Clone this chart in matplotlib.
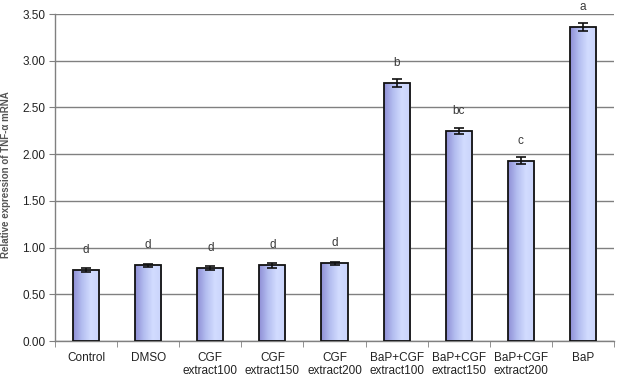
import numpy as np
import matplotlib
matplotlib.use("Agg")
import matplotlib.pyplot as plt
from matplotlib.colors import LinearSegmentedColormap

categories = ["Control", "DMSO", "CGF\nextract100", "CGF\nextract150", "CGF\nextract200",
              "BaP+CGF\nextract100", "BaP+CGF\nextract150", "BaP+CGF\nextract200", "BaP"]
values = [0.76, 0.81, 0.78, 0.81, 0.83, 2.76, 2.25, 1.93, 3.36]
errors = [0.025, 0.015, 0.025, 0.025, 0.02, 0.04, 0.03, 0.04, 0.04]
letters = ["d", "d", "d", "d", "d", "b", "bc", "c", "a"]
yticks = [0.0, 0.5, 1.0, 1.5, 2.0, 2.5, 3.0, 3.5]

plt.rcParams['font.family'] = ['Liberation Sans', 'DejaVu Sans']

fig = plt.figure(figsize=(6.23, 3.88), dpi=100)
ax = fig.add_axes([55/623, 1 - 341/388, 559/623, 327/388])

x = np.arange(len(categories))
width = 0.42
cmap = LinearSegmentedColormap.from_list("g", ["#8f8fd6", "#b4bef0", "#d2dcff", "#cad4fb"])
grad = np.linspace(0, 1, 64).reshape(1, -1)

ax.set_xlim(-0.5, len(categories) - 0.5)
ax.set_ylim(0, 3.5)

for i, (v, e) in enumerate(zip(values, errors)):
    bars = ax.bar(x[i], v, width=width, facecolor="none", edgecolor="#111111", linewidth=1.3, zorder=3)
    rect = bars[0]
    im = ax.imshow(grad, cmap=cmap, aspect="auto",
                   extent=[x[i] - width/2, x[i] + width/2, 0, v], zorder=2)
    im.set_clip_path(rect)
    ax.errorbar(x[i], v, yerr=e, fmt="none", ecolor="#111111", elinewidth=1.2,
                capsize=3.5, capthick=1.2, zorder=4)
    ax.text(x[i], v + 0.15, letters[i], ha="center", va="bottom", fontsize=8.5,
            color="#3a3a3a", clip_on=False)

ax.set_xlim(-0.5, len(categories) - 0.5)
ax.set_ylim(0, 3.5)
ax.set_yticks(yticks)
ax.set_yticklabels([f"{t:.2f}" for t in yticks], fontsize=8.5, color="#222222")
ax.yaxis.grid(True, color="#808080", linewidth=1.0, zorder=0)
ax.set_axisbelow(True)

ax.set_xticks(x)
ax.set_xticklabels(categories, fontsize=8.5, color="#222222", linespacing=1.15)
ax.tick_params(axis="x", which="major", length=0, pad=8)
ax.set_xticks(np.arange(-0.5, len(categories) + 0.5, 1), minor=True)
ax.tick_params(axis="x", which="minor", length=4, color="#808080", direction="out")
ax.tick_params(axis="y", length=4, color="#808080", direction="out", pad=3)

for s in ["top", "right"]:
    ax.spines[s].set_visible(False)
for s in ["left", "bottom"]:
    ax.spines[s].set_color("#808080")
    ax.spines[s].set_linewidth(1.0)

fig.text(6/623, 0.55, "Relative expression of TNF-α mRNA", rotation=90, ha="center",
         va="center", fontsize=7, fontweight="bold", color="#555555")

fig.savefig("out.png", dpi=100, facecolor="white")
